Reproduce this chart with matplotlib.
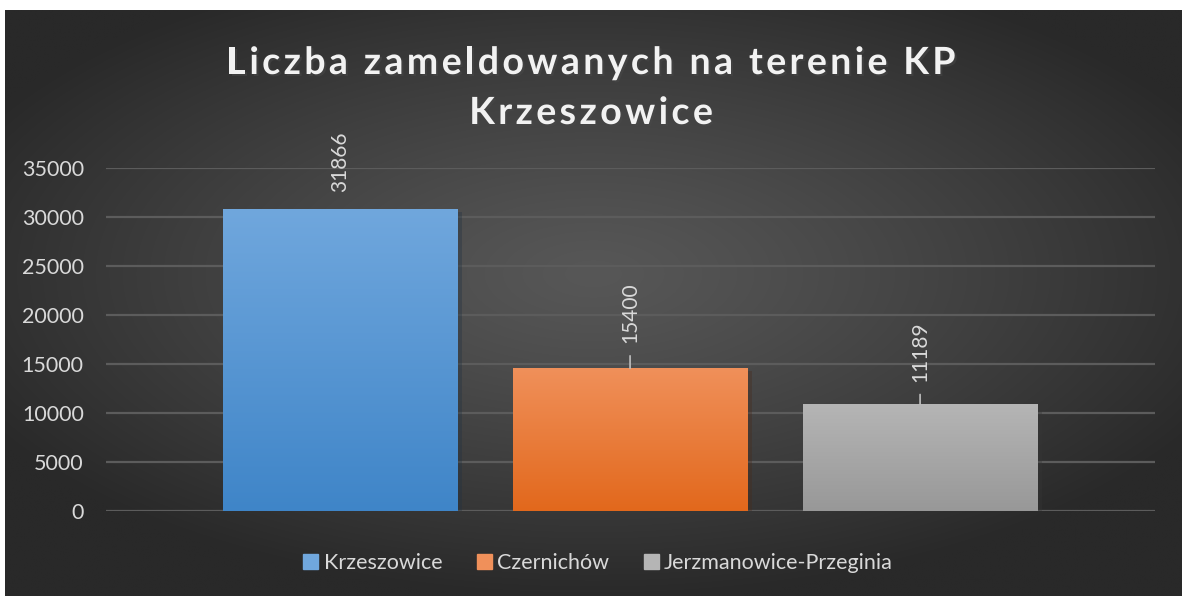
import matplotlib
matplotlib.use("Agg")
import matplotlib.pyplot as plt
import matplotlib.patheffects as pe
from matplotlib.colors import LinearSegmentedColormap
from matplotlib.font_manager import FontProperties
import numpy as np

# dane
kategorie = ["Krzeszowice", "Czernichów", "Jerzmanowice-Przeginia"]
wartosci = [30800, 14560, 10900]
etykiety = ["31866", "15400", "11189"]    # etykiety danych wpisane na wykresie
kolory_gora = ["#70a7dd", "#f0905a", "#b5b5b5"]
kolory_dol = ["#3f85c8", "#e2681c", "#989898"]
tytul = ["Liczba zameldowanych na terenie KP", "Krzeszowice"]
yticks = [0, 5000, 10000, 15000, 20000, 25000, 30000, 35000]

plt.rcParams['font.family'] = ['Lato', 'DejaVu Sans']

W, H = 1182, 596
fig = plt.figure(figsize=(W / 100, H / 100), dpi=100, facecolor="white")

# tlo z gradientem radialnym
bg = fig.add_axes([5 / W, 0, (W - 5) / W, (H - 10) / H])
yy, xx = np.mgrid[-1:1:300j, -1:1:600j]
r = np.sqrt((xx * 0.85) ** 2 + ((yy + 0.1) * 0.9) ** 2)
r = np.clip(r, 0, 1)
jasnosc = 0x57 - (0x57 - 0x29) * r ** 1.2
img = np.dstack([jasnosc / 255] * 3)
bg.imshow(img, aspect="auto", extent=(0, 1, 0, 1), interpolation="bilinear")
bg.set_axis_off()

ax = fig.add_axes([106 / W, (H - 511) / H, (1155 - 106) / W, (511 - 168) / H])
ax.patch.set_alpha(0)
x = np.arange(len(kategorie))
szer = 0.81
ax.set_yticks(yticks)
ax.set_yticklabels([str(t) for t in yticks])
ax.tick_params(axis="y", length=0, pad=16, labelsize=15.5, labelcolor="#d9d9d9")
ax.set_xticks([])
for s in ax.spines.values():
    s.set_visible(False)
ax.yaxis.grid(True, color="#5c5c5c", linewidth=1.6)
ax.set_axisbelow(True)

bary = ax.bar(x, wartosci, width=szer, color=kolory_gora, zorder=2,
              path_effects=[pe.SimplePatchShadow(offset=(3, -2), alpha=0.35), pe.Normal()])

for i, b in enumerate(bary):
    cmap = LinearSegmentedColormap.from_list("g", [kolory_dol[i], kolory_gora[i]])
    grad = np.linspace(0, 1, 256).reshape(-1, 1)
    im = ax.imshow(grad, cmap=cmap, aspect="auto", origin="lower",
                   extent=(b.get_x(), b.get_x() + b.get_width(), 0, b.get_height()),
                   zorder=3)
    im.set_clip_path(b)

ax.set_xlim(-0.807, 2.81)
ax.set_ylim(0, 35000)

# etykiety danych
odstep = [12, 18, 16]
linia = [False, True, True]
for i in range(len(wartosci)):
    if linia[i]:
        ax.annotate(etykiety[i], xy=(x[i], wartosci[i]), xytext=(0, odstep[i]),
                    textcoords="offset points", rotation=90, ha="center", va="bottom",
                    fontsize=15, color="#d9d9d9", zorder=5,
                    arrowprops=dict(arrowstyle="-", color="#bfbfbf", lw=1.2,
                                    shrinkA=7, shrinkB=0))
    else:
        ax.annotate(etykiety[i], xy=(x[i], wartosci[i]), xytext=(0, odstep[i]),
                    textcoords="offset points", rotation=90, ha="center", va="bottom",
                    fontsize=15, color="#d9d9d9", zorder=5)

# tytul z rozstrzelonymi literami
renderer = fig.canvas.get_renderer()
fp = FontProperties(family=['Lato', 'DejaVu Sans'], weight="bold", size=27)
rozstep = 3.4
def szerokosc(s):
    return renderer.get_text_width_height_descent(s, fp, ismath=False)[0]

for y_pix, linia_t in zip([60, 110], tytul):
    calosc = szerokosc(linia_t) + (len(linia_t) - 1) * rozstep
    lewo = 591 - calosc / 2
    for k, ch in enumerate(linia_t):
        if ch == " ":
            continue
        px = lewo + szerokosc(linia_t[:k + 1]) - szerokosc(ch) + k * rozstep
        fig.text(px / W, 1 - y_pix / H, ch, ha="left", va="center_baseline",
                 fontproperties=fp, color="#f2f2f2",
                 path_effects=[pe.withSimplePatchShadow(offset=(1.5, -1.5), alpha=0.5)])

# legenda
uchwyty = [plt.Rectangle((0, 0), 1, 1, color=kolory_gora[i]) for i in range(3)]
leg = fig.legend(uchwyty, kategorie, loc="center", bbox_to_anchor=(598 / W, 1 - 563 / H),
                 ncol=3, frameon=False, fontsize=15.5, handlelength=0.7, handleheight=0.7,
                 handletextpad=0.25, columnspacing=1.6)
for t in leg.get_texts():
    t.set_color("#d9d9d9")

fig.savefig("out.png", dpi=100, facecolor="white")
